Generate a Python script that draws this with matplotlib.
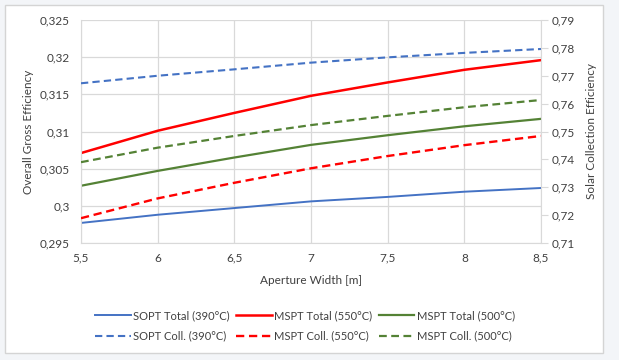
### Imports ###

import matplotlib
matplotlib.use('Agg')
from matplotlib import pyplot as plt
from matplotlib.patches import Rectangle
from matplotlib.ticker import FuncFormatter

### Data ###

aperture_width = [5.5, 6.0, 6.5, 7.0, 7.5, 8.0, 8.5]

# Overall gross efficiency (left axis)
sopt_total_390 = [0.2977, 0.2988, 0.2997, 0.3006, 0.3012, 0.3019, 0.3024]
mspt_total_550 = [0.3071, 0.3101, 0.3125, 0.3148, 0.3166, 0.3183, 0.3196]
mspt_total_500 = [0.3027, 0.3047, 0.3065, 0.3082, 0.3095, 0.3107, 0.3117]

# Solar collection efficiency (right axis)
sopt_coll_390 = [0.7673, 0.7700, 0.7723, 0.7747, 0.7766, 0.7782, 0.7796]
mspt_coll_550 = [0.7189, 0.7260, 0.7316, 0.7368, 0.7412, 0.7451, 0.7484]
mspt_coll_500 = [0.7390, 0.7442, 0.7484, 0.7523, 0.7556, 0.7587, 0.7613]

x_ticks = [5.5, 6.0, 6.5, 7.0, 7.5, 8.0, 8.5]
left_ticks = [0.295, 0.3, 0.305, 0.31, 0.315, 0.32, 0.325]
right_ticks = [0.71, 0.72, 0.73, 0.74, 0.75, 0.76, 0.77, 0.78, 0.79]

### Style ###

plt.rcParams['font.family'] = ['Lato', 'DejaVu Sans']
text_col = '#404040'
grid_col = '#d9d9d9'
blue = '#4472c4'
red = '#ff0000'
green = '#548235'

def comma(v, pos):
    # Excel style decimal comma, no trailing zeros
    s = ('%.3f' % v).rstrip('0').rstrip('.')
    return s.replace('.', ',')

### Figure ###

fig = plt.figure(figsize=(6.19, 3.6), dpi=100)
fig.patch.set_facecolor('#f3f5f8')

# Chart area box (behind the axes)
fig.patches.append(Rectangle((5 / 619, 1 - 353 / 360), 598 / 619, 348 / 360,
                             transform=fig.transFigure, facecolor='white',
                             edgecolor='#d4d4d4', linewidth=1, zorder=-10))

ax = fig.add_axes([81 / 619, 1 - 243 / 360, 460 / 619, 223 / 360])
ax.set_facecolor('white')
ax2 = ax.twinx()

# Total efficiency lines (left)
l1, = ax.plot(aperture_width, sopt_total_390, color=blue, lw=1.4, label='SOPT Total (390°C)')
l2, = ax.plot(aperture_width, mspt_total_550, color=red, lw=1.8, label='MSPT Total (550°C)')
l3, = ax.plot(aperture_width, mspt_total_500, color=green, lw=1.6, label='MSPT Total (500°C)')

# Collection efficiency lines (right)
d1, = ax2.plot(aperture_width, sopt_coll_390, color=blue, lw=1.5, ls=(0, (3.5, 2)), label='SOPT Coll. (390°C)')
d2, = ax2.plot(aperture_width, mspt_coll_550, color=red, lw=1.7, ls=(0, (3.5, 2)), label='MSPT Coll. (550°C)')
d3, = ax2.plot(aperture_width, mspt_coll_500, color=green, lw=1.6, ls=(0, (3.5, 2)), label='MSPT Coll. (500°C)')

# Axes limits and ticks
ax.set_xlim(5.5, 8.5)
ax.set_ylim(0.295, 0.325)
ax2.set_ylim(0.71, 0.79)
ax.set_xticks(x_ticks)
ax.set_yticks(left_ticks)
ax2.set_yticks(right_ticks)
ax.xaxis.set_major_formatter(FuncFormatter(comma))
ax.yaxis.set_major_formatter(FuncFormatter(comma))
ax2.yaxis.set_major_formatter(FuncFormatter(comma))

ax.grid(True, color=grid_col, lw=0.9)
ax.set_axisbelow(True)

for a in (ax, ax2):
    for side in a.spines:
        a.spines[side].set_visible(False)
ax.spines['left'].set_visible(True)
ax.spines['left'].set_color(grid_col)
ax.spines['bottom'].set_visible(True)
ax.spines['bottom'].set_color(grid_col)
ax2.spines['right'].set_visible(True)
ax2.spines['right'].set_color(grid_col)

ax.tick_params(axis='both', length=0, labelsize=8.5, labelcolor=text_col, pad=7)
ax.tick_params(axis='y', pad=8)
ax2.tick_params(axis='y', length=5, color=grid_col, labelsize=8.5, labelcolor=text_col, pad=3)

ax.set_xlabel('Aperture Width [m]', fontsize=8.5, color=text_col, labelpad=8)
ax.set_ylabel('Overall Gross Efficiency', fontsize=8.5, color=text_col, labelpad=4)
ax2.set_ylabel('Solar Collection Efficiency', fontsize=8.5, color=text_col, labelpad=8)

# Legend: ncol fills column-wise, so order pairs
handles = [l1, d1, l2, d2, l3, d3]
fig.legend(handles=handles, labels=[h.get_label() for h in handles],
           loc='center', bbox_to_anchor=(305 / 619, 1 - 326 / 360), ncol=3,
           frameon=False, fontsize=8, handlelength=3.2, handletextpad=0.2,
           columnspacing=0.6, labelspacing=0.85, labelcolor=text_col)

fig.savefig('out.png', dpi=100, facecolor=fig.get_facecolor())
